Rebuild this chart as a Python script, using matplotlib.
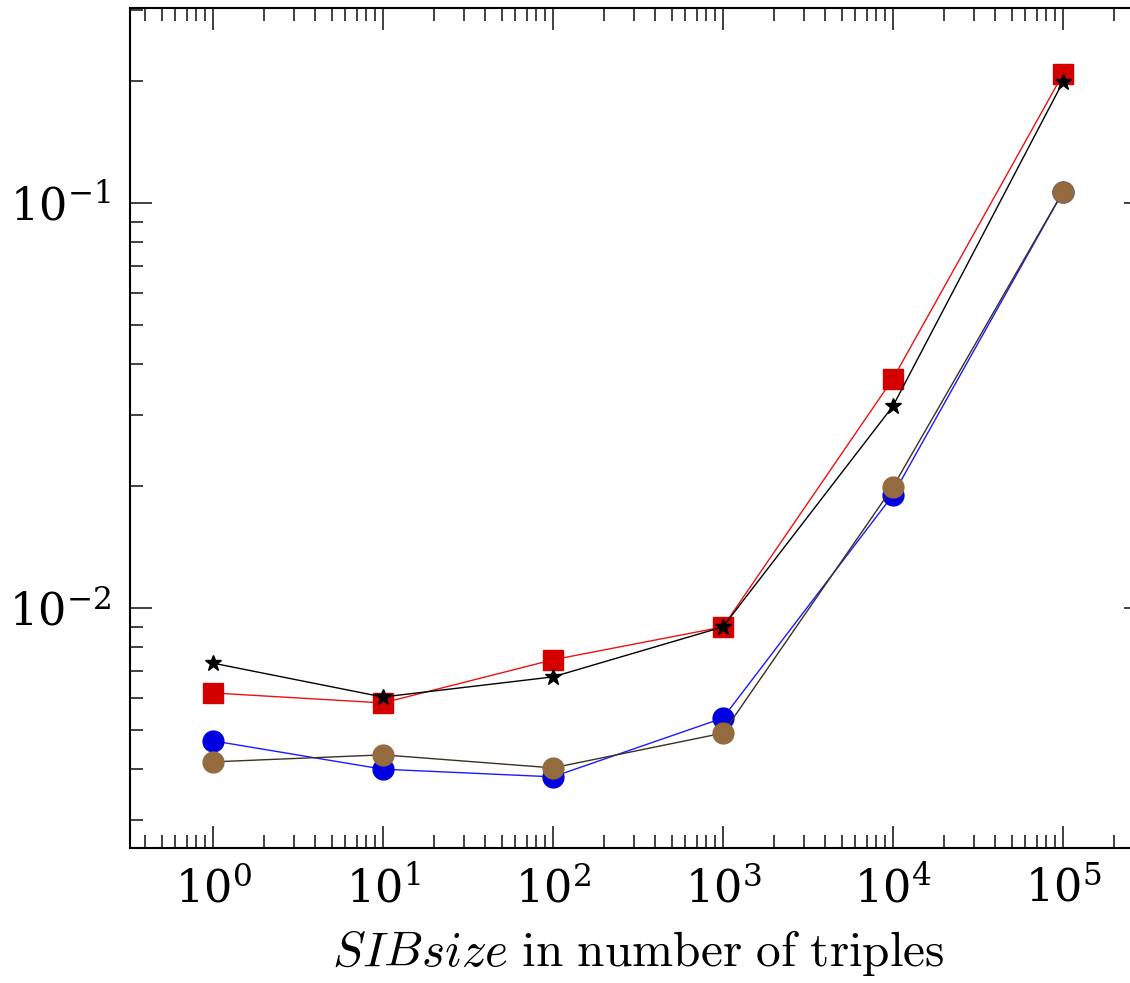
import matplotlib.pyplot as plt
from matplotlib.ticker import FixedLocator, LogLocator, NullFormatter, LogFormatterMathtext

plt.rcParams['mathtext.fontset'] = 'cm'
plt.rcParams['font.family'] = 'serif'
plt.rcParams['font.serif'] = ['DejaVu Serif']

# datos
sib_size = [1, 10, 100, 1000, 10000, 100000]
serie_roja = [0.00617, 0.00583, 0.00745, 0.00898, 0.0368, 0.208]
serie_negra = [0.00731, 0.00603, 0.00676, 0.00898, 0.0315, 0.199]
serie_azul = [0.0047, 0.0040, 0.00383, 0.00535, 0.0190, 0.1065]
serie_marron = [0.00417, 0.00434, 0.00403, 0.00491, 0.0199, 0.1065]

ticks_x = [1, 10, 100, 1000, 10000, 100000]
ticks_y = [0.01, 0.1]

fig = plt.figure(figsize=(11.3, 9.83), dpi=100)
ax = fig.add_axes([0.115, 0.1373, 0.899, 0.8545])

ax.plot(sib_size, serie_roja, color='#ee1111', lw=1.0, marker='s', ms=15,
        mfc='#d40000', mec='#d40000')
ax.plot(sib_size, serie_negra, color='black', lw=1.0, marker='*', ms=12,
        mfc='black', mec='black')
ax.plot(sib_size, serie_azul, color='#1a1aff', lw=1.0, marker='o', ms=15,
        mfc='#0000e0', mec='#0000e0')
ax.plot(sib_size, serie_marron, color='#3b3022', lw=1.0, marker='o', ms=15,
        mfc='#946a3f', mec='#946a3f')

ax.set_xscale('log')
ax.set_yscale('log')
ax.set_xlim(10**-0.488, 10**5.488)
ax.set_ylim(0.002555, 0.303)

ax.xaxis.set_major_locator(FixedLocator(ticks_x))
ax.yaxis.set_major_locator(FixedLocator(ticks_y))
ax.xaxis.set_major_formatter(LogFormatterMathtext())
ax.yaxis.set_major_formatter(LogFormatterMathtext())
ax.xaxis.set_minor_locator(LogLocator(base=10, subs=range(2, 10), numticks=12))
ax.yaxis.set_minor_locator(LogLocator(base=10, subs=range(2, 10), numticks=12))
ax.xaxis.set_minor_formatter(NullFormatter())
ax.yaxis.set_minor_formatter(NullFormatter())

ax.tick_params(which='both', direction='in', top=True, right=True,
               width=1.3, color='#333333')
ax.tick_params(which='major', length=16, labelsize=32, pad=14)
ax.tick_params(which='minor', length=9.5)
for sp in ax.spines.values():
    sp.set_linewidth(1.5)

ax.set_xlabel(r'$SIBsize\ \mathrm{in\ number\ of\ triples}$', fontsize=35.5,
              labelpad=12)

plt.savefig('out.png', dpi=100)
